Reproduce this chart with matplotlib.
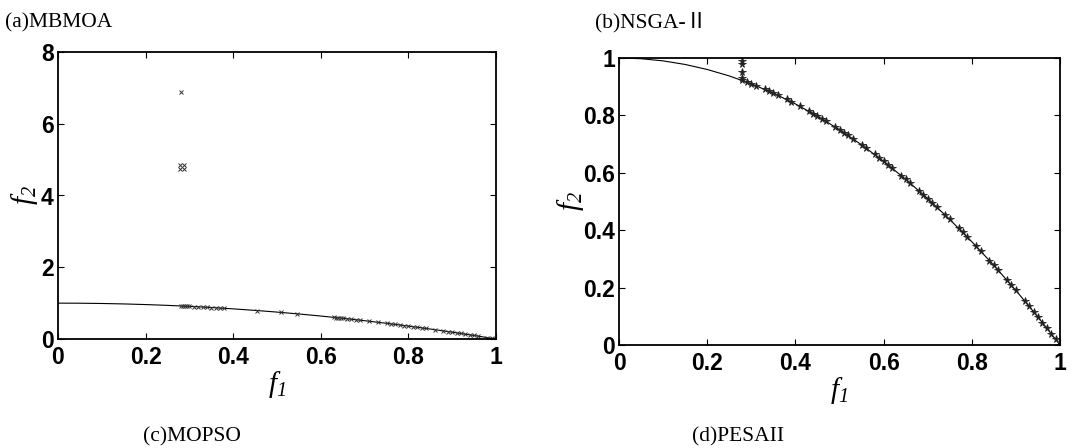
import matplotlib
matplotlib.use("Agg")
import matplotlib.pyplot as plt

plt.rcParams['mathtext.fontset'] = 'custom'
plt.rcParams['mathtext.it'] = 'Liberation Serif:italic'
plt.rcParams['mathtext.rm'] = 'Liberation Serif:italic'

# ---- data ----
front_f1 = [0.0, 0.05, 0.1, 0.15, 0.2, 0.25, 0.3, 0.35, 0.4, 0.45, 0.5, 0.55,
            0.6, 0.65, 0.7, 0.75, 0.8, 0.85, 0.9, 0.95, 1.0]
front_f2 = [1.0, 0.9975, 0.99, 0.9775, 0.96, 0.9375, 0.91, 0.8775, 0.84, 0.7975,
            0.75, 0.6975, 0.64, 0.5775, 0.51, 0.4375, 0.36, 0.2775, 0.19, 0.0975, 0.0]

# (a) MBMOA
a_f1 = [0.28, 0.278, 0.288, 0.278, 0.288,
        0.28, 0.285, 0.29, 0.295, 0.30, 0.31, 0.32, 0.33, 0.34, 0.35, 0.36, 0.37, 0.38,
        0.455, 0.51, 0.545,
        0.63, 0.635, 0.64, 0.645, 0.65, 0.66, 0.67, 0.68, 0.69, 0.71, 0.73,
        0.75, 0.76, 0.77, 0.78, 0.79, 0.80, 0.81, 0.82, 0.83, 0.84, 0.86,
        0.88, 0.89, 0.90, 0.91, 0.92, 0.93, 0.94, 0.95, 0.96, 0.98, 0.99, 1.0]
a_f2 = [6.88, 4.86, 4.86, 4.74, 4.74,
        0.922, 0.919, 0.916, 0.913, 0.91, 0.904, 0.898, 0.891, 0.884, 0.878, 0.870, 0.863, 0.856,
        0.793, 0.740, 0.703,
        0.603, 0.597, 0.590, 0.584, 0.578, 0.564, 0.551, 0.538, 0.524, 0.496, 0.467,
        0.438, 0.422, 0.407, 0.392, 0.376, 0.36, 0.344, 0.328, 0.311, 0.294, 0.260,
        0.226, 0.208, 0.19, 0.172, 0.154, 0.135, 0.116, 0.098, 0.078, 0.040, 0.020, 0.0]

# (b) NSGA-II
b_f1 = [0.28, 0.28, 0.28, 0.28, 0.28,
        0.29, 0.30, 0.31, 0.33, 0.34, 0.35, 0.36, 0.38, 0.39, 0.41, 0.43, 0.44, 0.45,
        0.46, 0.47, 0.49, 0.50, 0.51, 0.52, 0.53, 0.55, 0.56, 0.58, 0.59, 0.60, 0.61,
        0.62, 0.64, 0.65, 0.66, 0.68, 0.69, 0.70, 0.71, 0.72, 0.74, 0.75, 0.77, 0.78,
        0.79, 0.81, 0.82, 0.84, 0.85, 0.86, 0.88, 0.89, 0.90, 0.92, 0.93, 0.94, 0.95,
        0.96, 0.97, 0.98, 0.99, 1.0]
b_f2 = [0.99, 0.98, 0.95, 0.93, 0.922,
        0.916, 0.91, 0.904, 0.891, 0.884, 0.878, 0.870, 0.856, 0.848, 0.832, 0.815, 0.806, 0.798,
        0.788, 0.779, 0.760, 0.75, 0.740, 0.730, 0.719, 0.698, 0.686, 0.664, 0.652, 0.64, 0.628,
        0.616, 0.590, 0.578, 0.564, 0.538, 0.524, 0.51, 0.496, 0.482, 0.452, 0.438, 0.407, 0.392,
        0.376, 0.344, 0.328, 0.294, 0.278, 0.260, 0.226, 0.208, 0.19, 0.154, 0.135, 0.116, 0.098,
        0.078, 0.059, 0.040, 0.020, 0.0]

xticks = [0, 0.2, 0.4, 0.6, 0.8, 1]
xticklabels = ['0', '0.2', '0.4', '0.6', '0.8', '1']
a_yticks = [0, 2, 4, 6, 8]
a_yticklabels = ['0', '2', '4', '6', '8']
b_yticks = [0, 0.2, 0.4, 0.6, 0.8, 1]
b_yticklabels = ['0', '0.2', '0.4', '0.6', '0.8', '1']

captions_top = ['(a)MBMOA', '(b)NSGA-\u2161']
captions_bottom = ['(c)MOPSO', '(d)PESAII']

fig = plt.figure(figsize=(10.75, 4.48), dpi=100)
ax1 = fig.add_axes([58/1075, 1-339/448, 438/1075, 287/448])
ax2 = fig.add_axes([619/1075, 1-345/448, 441/1075, 287/448])

tickfont = dict(family='Liberation Sans', weight='bold', size=16.5)

def style(ax, yticks, ylabels, ypad):
    ax.set_xlim(0, 1)
    ax.set_xticks(xticks)
    ax.set_xticklabels(xticklabels, fontdict=tickfont)
    ax.set_yticks(yticks)
    ax.set_yticklabels(ylabels, fontdict=tickfont)
    ax.set_ylim(yticks[0], yticks[-1])
    ax.tick_params(direction='in', top=True, right=True, length=4, width=0.8, pad=3)
    ax.tick_params(axis='x', pad=5)
    for s in ax.spines.values():
        s.set_linewidth(1.3)
    ax.set_xlabel('$f_1$', fontsize=21, labelpad=0)
    ax.set_ylabel('$f_2$', fontsize=21, labelpad=ypad)

ax1.plot(front_f1, front_f2, color='black', lw=0.8)
ax1.plot(a_f1, a_f2, linestyle='none', marker='x', ms=2.5, mew=0.7, color='#333333')
style(ax1, a_yticks, a_yticklabels, 1)

ax2.plot(front_f1, front_f2, color='black', lw=0.8)
ax2.plot(b_f1, b_f2, linestyle='none', marker='*', ms=5.5, mew=0.6, color='#222222')
style(ax2, b_yticks, b_yticklabels, -2)

capfont = dict(family=['Liberation Serif', 'Noto Sans CJK SC', 'DejaVu Serif'], size=15.5)
fig.text(5/1075, 1-27/448, captions_top[0], va='baseline', ha='left', **capfont)
fig.text(595/1075, 1-27/448, captions_top[1], va='baseline', ha='left', **capfont)
fig.text(143/1075, 1-441/448, captions_bottom[0], va='baseline', ha='left', **capfont)
fig.text(692/1075, 1-441/448, captions_bottom[1], va='baseline', ha='left', **capfont)

fig.savefig('out.png', dpi=100)
